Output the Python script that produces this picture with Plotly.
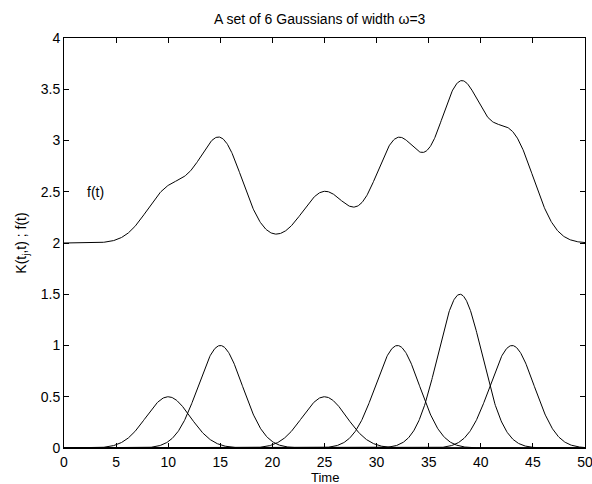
import numpy as np
import plotly.graph_objects as go

# Gaussian parameters
centers = [10, 15, 25, 32, 38, 43]
amplitudes = [0.5, 1.0, 0.5, 1.0, 1.5, 1.0]
width = 3.0
offset = 2.0
x_ticks = [0, 5, 10, 15, 20, 25, 30, 35, 40, 45, 50]
y_ticks = [0, 0.5, 1, 1.5, 2, 2.5, 3, 3.5, 4]

t = np.linspace(0, 50, 1001)
fig = go.Figure()
total = np.full_like(t, offset)
for c, a in zip(centers, amplitudes):
    k = a * np.exp(-((t - c) / width) ** 2)
    total = total + k
    fig.add_trace(go.Scatter(x=t, y=k, mode="lines",
                             line=dict(color="black", width=1), showlegend=False))
fig.add_trace(go.Scatter(x=t, y=total, mode="lines",
                         line=dict(color="black", width=1), showlegend=False))

font = "Liberation Sans, Arial, Helvetica, sans-serif"
fig.add_annotation(x=2, y=2.5, text="f(t)", showarrow=False, xanchor="left",
                   yanchor="middle", font=dict(size=14, color="black", family=font))
# x-axis title placed below the tick labels
fig.add_annotation(x=0.5, y=0, xref="paper", yref="paper", text="Time", showarrow=False,
                   xanchor="center", yanchor="top", yshift=-21, borderpad=0,
                   font=dict(size=13, color="black", family=font))

axis_common = dict(showline=True, linecolor="black", linewidth=1, mirror="ticks",
                   ticks="inside", ticklen=5, tickcolor="black", tickwidth=1,
                   showgrid=False, zeroline=False, automargin=False,
                   ticklabeloverflow="allow",
                   tickfont=dict(size=14, color="black", family=font))
fig.update_xaxes(range=[0, 50], tickvals=x_ticks, ticktext=[str(v) for v in x_ticks],
                 ticklabelstandoff=1, **axis_common)
fig.update_yaxes(range=[0, 4], tickvals=y_ticks, ticktext=[f"{v:g}" for v in y_ticks],
                 title=dict(text="K(t<sub>j</sub>,t) ; f(t)", font=dict(size=14, color="black", family=font), standoff=10),
                 **axis_common)
fig.update_layout(
    width=592, height=484,
    margin=dict(l=64, r=7, t=38, b=36),
    plot_bgcolor="white", paper_bgcolor="white",
    font=dict(family=font, color="black", size=14),
    title=dict(text="A set of 6 Gaussians of width ω=3", x=0.54, xanchor="center",
               y=1 - 19 / 484, yanchor="middle", font=dict(size=14, color="black", family=font)),
)
fig.write_html("out.html")
